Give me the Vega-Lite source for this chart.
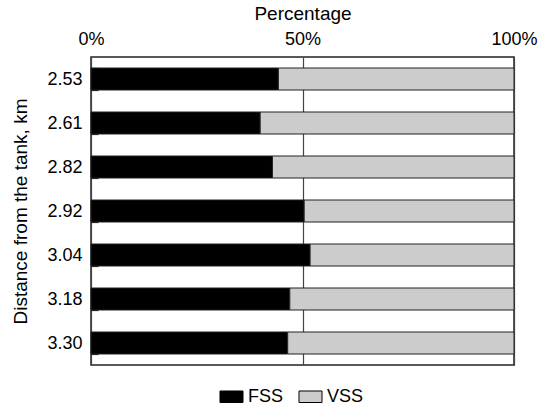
{
  "$schema": "https://vega.github.io/schema/vega-lite/v6.json",
  "width": 423,
  "height": 308,
  "autosize": {"type": "none"},
  "padding": {"left": 91, "top": 57, "right": 29, "bottom": 42},
  "background": "white",
  "config": {
    "font": "Liberation Sans",
    "view": {"stroke": "#222", "strokeWidth": 1.5},
    "axis": {"labelFont": "Liberation Sans", "titleFont": "Liberation Sans", "labelFontSize": 18, "titleFontSize": 19, "titleFontWeight": "normal", "labelColor": "#000", "titleColor": "#000"},
    "legend": {"labelFont": "Liberation Sans", "labelFontSize": 18, "labelColor": "#000"}
  },
  "data": {
    "values": [
      {"d": "2.53", "type": "FSS", "v": 44.3},
      {"d": "2.53", "type": "VSS", "v": 55.7},
      {"d": "2.61", "type": "FSS", "v": 40.0},
      {"d": "2.61", "type": "VSS", "v": 60.0},
      {"d": "2.82", "type": "FSS", "v": 42.9},
      {"d": "2.82", "type": "VSS", "v": 57.1},
      {"d": "2.92", "type": "FSS", "v": 50.4},
      {"d": "2.92", "type": "VSS", "v": 49.6},
      {"d": "3.04", "type": "FSS", "v": 51.8},
      {"d": "3.04", "type": "VSS", "v": 48.2},
      {"d": "3.18", "type": "FSS", "v": 47.0},
      {"d": "3.18", "type": "VSS", "v": 53.0},
      {"d": "3.30", "type": "FSS", "v": 46.5},
      {"d": "3.30", "type": "VSS", "v": 53.5}
    ]
  },
  "mark": {"type": "bar", "stroke": "#222", "strokeWidth": 1},
  "encoding": {
    "y": {
      "field": "d",
      "type": "nominal",
      "sort": ["2.53", "2.61", "2.82", "2.92", "3.04", "3.18", "3.30"],
      "scale": {"paddingInner": 0.5, "paddingOuter": 0.25},
      "axis": {
        "title": "Distance from the tank, km",
        "domain": false,
        "tickBand": "extent",
        "tickSize": -7,
        "tickColor": "#222",
        "tickWidth": 1.2,
        "labelPadding": 16,
        "titlePadding": 16
      }
    },
    "x": {
      "field": "v",
      "type": "quantitative",
      "stack": "normalize",
      "scale": {"domain": [0, 1], "nice": false},
      "axis": {
        "orient": "top",
        "title": "Percentage",
        "format": "%",
        "values": [0, 0.5, 1],
        "labelFlush": false,
        "grid": true,
        "gridColor": "#444",
        "gridWidth": 1.2,
        "gridOpacity": 1,
        "domain": false,
        "ticks": false,
        "labelPadding": 9,
        "titlePadding": 7
      }
    },
    "color": {
      "field": "type",
      "type": "nominal",
      "scale": {"domain": ["FSS", "VSS"], "range": ["#000000", "#cccccc"]},
      "legend": {
        "title": null,
        "orient": "none",
        "legendX": 128,
        "legendY": 327,
        "direction": "horizontal",
        "symbolType": "M-1,-0.5H1V0.5H-1Z",
        "symbolSize": 530,
        "symbolStrokeColor": "#000",
        "symbolStrokeWidth": 1,
        "symbolOpacity": 1,
        "labelOffset": 4,
        "columnPadding": 12
      }
    },
    "order": {"field": "type", "sort": "ascending"}
  }
}
